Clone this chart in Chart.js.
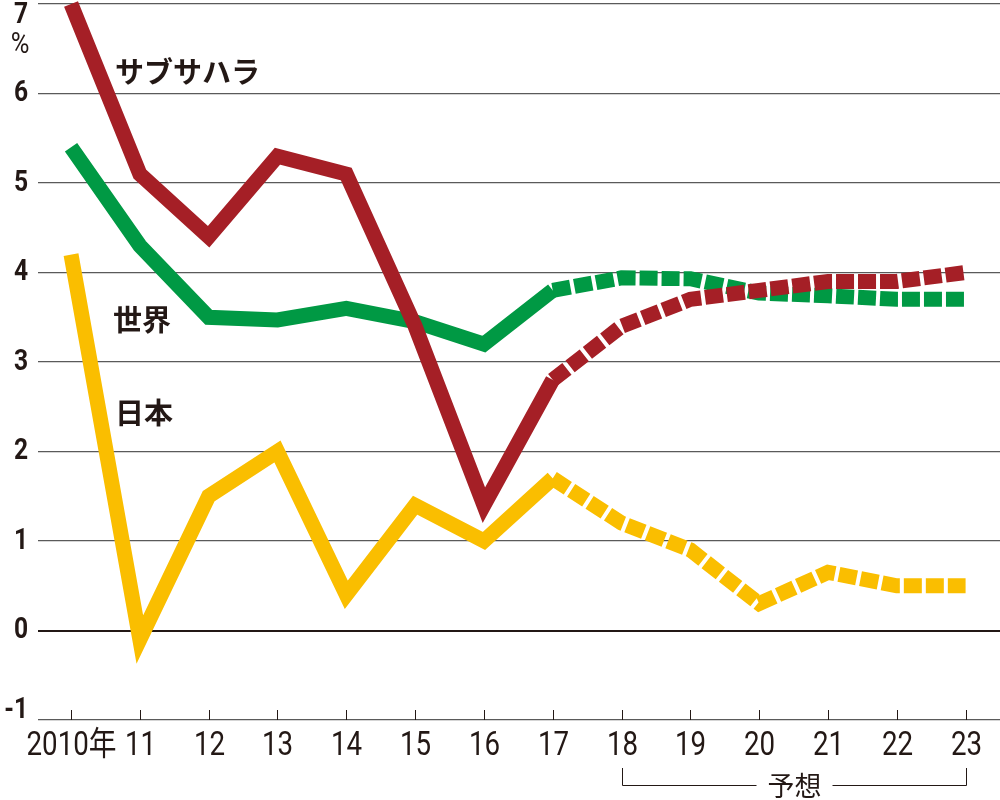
<!DOCTYPE html>
<html>
<head>
<meta charset="utf-8">
<script src="https://cdn.jsdelivr.net/npm/chart.js@4.4.0/dist/chart.umd.min.js"></script>
<style>
    body { margin: 0; background: #fff; }
    #wrap { width: 1000px; height: 800px; }
</style>
</head>
<body>
<div id="wrap"><canvas id="chart" width="1000" height="800"></canvas></div>
<script>
// data (growth rate, %)
const years = ['2010年', '11', '12', '13', '14', '15', '16', '17', '18', '19', '20', '21', '22', '23'];
const subSaharan = [7.0, 5.1, 4.4, 5.3, 5.1, 3.4, 1.4, 2.8, 3.4, 3.7, 3.8, 3.9, 3.9, 4.0];
const world = [5.4, 4.3, 3.5, 3.47, 3.6, 3.45, 3.2, 3.8, 3.94, 3.93, 3.77, 3.74, 3.7, 3.7];
const japan = [4.2, -0.1, 1.5, 2.0, 0.4, 1.4, 1.0, 1.7, 1.2, 0.9, 0.3, 0.65, 0.5, 0.5];
const yTicks = [7, 6, 5, 4, 3, 2, 1, 0, -1];
const firstForecast = 7; // index of 2017, dashes start after it

const INK = '#231815';
const NUM_FONT = 'Roboto, "Noto Sans CJK JP", sans-serif';
const JP_FONT = '"Noto Sans CJK JP", sans-serif';

// series name labels, placed in data units
const seriesLabels = [
    {text: 'サブサハラ', x: 0.64, y: 6.24},
    {text: '世界', x: 0.61, y: 3.47},
    {text: '日本', x: 0.64, y: 2.43}
];

function toPoints(arr) {
    return arr.map((v, i) => ({x: i, y: v}));
}

function makeSet(label, values, color) {
    return {
        label: label,
        data: toPoints(values),
        borderColor: color,
        borderWidth: 15,
        pointRadius: 0,
        tension: 0,
        clip: false,
        borderCapStyle: 'butt',
        borderJoinStyle: 'miter',
        segment: {
            borderDash: ctx => ctx.p0DataIndex >= firstForecast ? [18, 4] : undefined
        }
    };
}

//text squeezed horizontally, the picture uses a condensed face
function narrowText(c, text, x, y, sx) {
    c.save();
    c.translate(x, y);
    c.scale(sx, 1);
    c.fillText(text, 0, 0);
    c.restore();
}

const decorations = {
    id: 'decorations',
    afterDraw(chart) {
        const c = chart.ctx;
        const xs = chart.scales.x;
        const ys = chart.scales.y;
        const bottom = ys.getPixelForValue(-1);
        c.save();
        c.fillStyle = INK;
        c.strokeStyle = INK;

        //y labels
        c.font = 'bold 30px ' + NUM_FONT;
        c.textAlign = 'right';
        c.textBaseline = 'middle';
        yTicks.forEach(v => {
            let py = ys.getPixelForValue(v);
            py = Math.min(Math.max(py, 15), bottom - 10);
            narrowText(c, v < 0 ? '-' + Math.abs(v) : String(v), 28, py, 0.82);
        });
        c.font = '30px ' + NUM_FONT;
        c.textAlign = 'center';
        narrowText(c, '%', 20, 45, 0.85);

        //x tick marks and labels
        c.lineWidth = 1;
        c.font = '33px ' + NUM_FONT;
        c.textBaseline = 'middle';
        years.forEach((lab, i) => {
            const px = Math.round(xs.getPixelForValue(i)) + 0.5;
            c.beginPath();
            c.moveTo(px, bottom - 10);
            c.lineTo(px, bottom);
            c.stroke();
            narrowText(c, lab, px, bottom + 27, 0.84);
        });

        //forecast bracket
        const x0 = Math.round(xs.getPixelForValue(8)) + 0.5;
        const x1 = Math.round(xs.getPixelForValue(13)) + 0.5;
        const by = 785.5;
        const mid = (x0 + x1) / 2;
        c.beginPath();
        c.moveTo(x0, 768);
        c.lineTo(x0, by);
        c.lineTo(mid - 38, by);
        c.moveTo(mid + 38, by);
        c.lineTo(x1, by);
        c.lineTo(x1, 768);
        c.stroke();
        c.font = '27px ' + JP_FONT;
        c.fillText('予想', mid, by);

        //series names
        c.font = 'bold 29px ' + JP_FONT;
        c.textAlign = 'left';
        seriesLabels.forEach(l => {
            c.fillText(l.text, xs.getPixelForValue(l.x), ys.getPixelForValue(l.y));
        });
        c.restore();
    }
};

new Chart(document.getElementById('chart'), {
    type: 'line',
    data: {
        datasets: [
            makeSet('サブサハラ', subSaharan, '#a51f26'),
            makeSet('世界', world, '#009944'),
            makeSet('日本', japan, '#fabe00')
        ]
    },
    options: {
        responsive: false,
        animation: false,
        layout: {padding: {left: 38, top: 4, right: 0, bottom: 80}},
        plugins: {legend: {display: false}, tooltip: {enabled: false}},
        scales: {
            x: {
                type: 'linear',
                display: false,
                min: -0.48,
                max: 13.5
            },
            y: {
                min: -1,
                max: 7,
                ticks: {display: false, stepSize: 1},
                border: {display: false},
                grid: {
                    drawTicks: false,
                    color: ctx => ctx.tick.value === 0 ? INK : '#5a5a5a',
                    lineWidth: ctx => ctx.tick.value === 0 ? 2 : 1.2
                }
            }
        }
    },
    plugins: [decorations]
});
</script>
</body>
</html>
